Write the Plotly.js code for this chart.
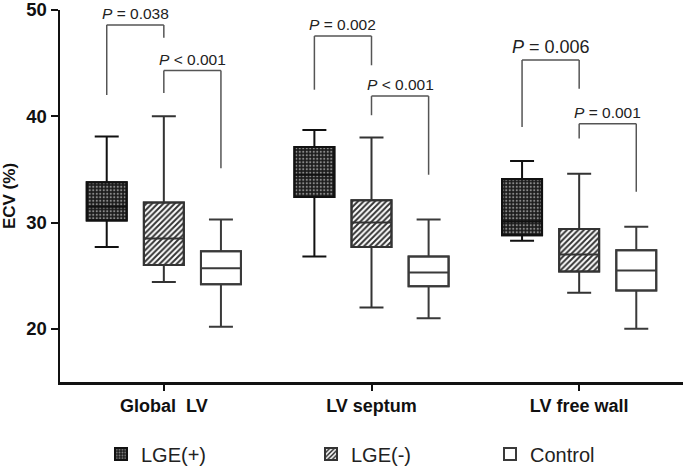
<!DOCTYPE html>
<html><head><meta charset="utf-8">
<script src="https://cdn.plot.ly/plotly-3.0.1.min.js"></script>
<style>html,body{margin:0;padding:0;background:#fff}#chart{width:685px;height:468px}</style>
</head><body><div id="chart"></div>
<script>
// ---------- data ----------
const categories = ['Global\u00a0 LV', 'LV septum', 'LV free wall'];
const groupNames = ['LGE(+)', 'LGE(-)', 'Control'];

const lgePosUpper  = [38.1, 38.7, 35.8];
const lgePosQ3     = [33.8, 37.1, 34.1];
const lgePosMedian = [31.5, 34.5, 30.1];
const lgePosQ1     = [30.2, 32.4, 28.8];
const lgePosLower  = [27.7, 26.8, 28.3];

const lgeNegUpper  = [40.0, 38.0, 34.6];
const lgeNegQ3     = [31.9, 32.1, 29.4];
const lgeNegMedian = [28.5, 30.0, 27.0];
const lgeNegQ1     = [26.0, 27.7, 25.4];
const lgeNegLower  = [24.4, 22.0, 23.4];

const controlUpper  = [30.3, 30.3, 29.6];
const controlQ3     = [27.3, 26.8, 27.4];
const controlMedian = [25.7, 25.3, 25.5];
const controlQ1     = [24.2, 24.0, 23.6];
const controlLower  = [20.2, 21.0, 20.0];

// significance brackets
const bracketCategory = [0, 0, 1, 1, 2, 2];
const bracketFrom     = [0, 1, 0, 1, 0, 1];
const bracketTo       = [1, 2, 1, 2, 1, 2];
const bracketTop      = [48.6, 44.3, 47.55, 41.9, 45.3, 39.3];
const bracketLeftEnd  = [42.0, 42.2, 42.5, 40.1, 39.0, 37.9];
const bracketRightEnd = [47.4, 35.1, 44.8, 34.5, 42.6, 32.9];
const bracketLabels   = ['= 0.038', '< 0.001', '= 0.002', '< 0.001', '= 0.006', '= 0.001'];

const yTickVals = [20, 30, 40, 50];

// ---------- styling / geometry ----------
const BOXGAP = 0.175, BOXGROUPGAP = 0.3;
const slot = (1 - BOXGAP) / 3;
const boxW = slot * (1 - BOXGROUPGAP);
const groupOffset = g => (g - 1) * slot;

const series = [
  {q1: lgePosQ1, med: lgePosMedian, q3: lgePosQ3, lo: lgePosLower, hi: lgePosUpper},
  {q1: lgeNegQ1, med: lgeNegMedian, q3: lgeNegQ3, lo: lgeNegLower, hi: lgeNegUpper},
  {q1: controlQ1, med: controlMedian, q3: controlQ3, lo: controlLower, hi: controlUpper}
];
const lineColors = ['#111111', '#333333', '#3a3a3a'];
const barMarkers = [
  {color: '#1c1c1c', pattern: {shape: '.', fgcolor: '#8a8a8a', bgcolor: '#1c1c1c', size: 3.5, solidity: 0.3}},
  {color: '#333333', pattern: {shape: '/', fgcolor: '#ffffff', bgcolor: '#333333', size: 4, solidity: 0.5}},
  {color: '#ffffff'}
];
const legendIds = ['legend', 'legend2', 'legend3'];

const traces = [];
series.forEach((s, g) => {
  traces.push({
    type: 'bar', name: groupNames[g], x: categories,
    base: s.q1, y: s.q3.map((v, i) => v - s.q1[i]),
    width: boxW, offset: groupOffset(g) - boxW / 2,
    marker: Object.assign({line: {color: lineColors[g], width: 2}}, barMarkers[g]),
    legend: legendIds[g], showlegend: true, hoverinfo: 'skip'
  });
});
series.forEach((s, g) => {
  traces.push({
    type: 'box', name: groupNames[g], x: categories,
    offsetgroup: 'grp' + g, alignmentgroup: 'boxes',
    q1: s.q1, median: s.med, q3: s.q3, lowerfence: s.lo, upperfence: s.hi,
    boxpoints: false, whiskerwidth: 0.6,
    fillcolor: 'rgba(0,0,0,0)', line: {color: lineColors[g], width: 2},
    showlegend: false, hoverinfo: 'skip'
  });
});

const shapes = [], annotations = [];
const bracketLine = {color: '#555555', width: 1.5};
bracketCategory.forEach((c, i) => {
  const xl = c + groupOffset(bracketFrom[i]);
  const xr = c + groupOffset(bracketTo[i]);
  shapes.push({type: 'line', xref: 'x', yref: 'y', x0: xl, x1: xl, y0: bracketLeftEnd[i], y1: bracketTop[i], line: bracketLine});
  shapes.push({type: 'line', xref: 'x', yref: 'y', x0: xl, x1: xr, y0: bracketTop[i], y1: bracketTop[i], line: bracketLine});
  shapes.push({type: 'line', xref: 'x', yref: 'y', x0: xr, x1: xr, y0: bracketTop[i], y1: bracketRightEnd[i], line: bracketLine});
  annotations.push({
    xref: 'x', yref: 'y', x: (xl + xr) / 2, y: bracketTop[i], yanchor: 'bottom', yshift: 1,
    showarrow: false, text: '<i>P</i> ' + bracketLabels[i],
    font: {family: 'Arial, Liberation Sans', size: i === 4 ? 18 : 15.5, color: '#222'}
  });
});

const legendBase = {
  orientation: 'h', xref: 'container', yref: 'container', y: 0.03, yanchor: 'middle', xanchor: 'left',
  bgcolor: 'rgba(0,0,0,0)', font: {family: 'Arial, Liberation Sans', size: 20, color: '#222'}
};
const legendX = [101, 311, 490];

const layout = {
  width: 685, height: 468,
  margin: {l: 60, r: 2, t: 10, b: 86},
  paper_bgcolor: '#fff', plot_bgcolor: '#fff',
  boxmode: 'group', boxgap: BOXGAP, boxgroupgap: BOXGROUPGAP,
  barmode: 'overlay',
  showlegend: true,
  legend:  Object.assign({}, legendBase, {x: legendX[0] / 685}),
  legend2: Object.assign({}, legendBase, {x: legendX[1] / 685}),
  legend3: Object.assign({}, legendBase, {x: legendX[2] / 685}),
  xaxis: {
    type: 'category', range: [-0.5, 2.5], showline: true, linecolor: '#111', linewidth: 2.5,
    ticks: 'outside', ticklen: 6, tickwidth: 2, tickcolor: '#111', showgrid: false, zeroline: false,
    tickfont: {family: 'Arial, Liberation Sans', size: 18, weight: 700, color: '#111'}
  },
  yaxis: {
    range: [15, 50], tickvals: yTickVals, showline: true, linecolor: '#111', linewidth: 2.5,
    ticks: 'outside', ticklen: 7, tickwidth: 2, tickcolor: '#111', showgrid: false, zeroline: false,
    ticklabeloverflow: 'allow',
    tickfont: {family: 'Arial, Liberation Sans', size: 18.5, weight: 700, color: '#111'},
    title: {text: 'ECV (%)', standoff: 7, font: {family: 'Arial, Liberation Sans', size: 17, weight: 700, color: '#111'}}
  },
  shapes: shapes, annotations: annotations
};

Plotly.newPlot('chart', traces, layout, {displayModeBar: false, staticPlot: true});
</script>
</body></html>
